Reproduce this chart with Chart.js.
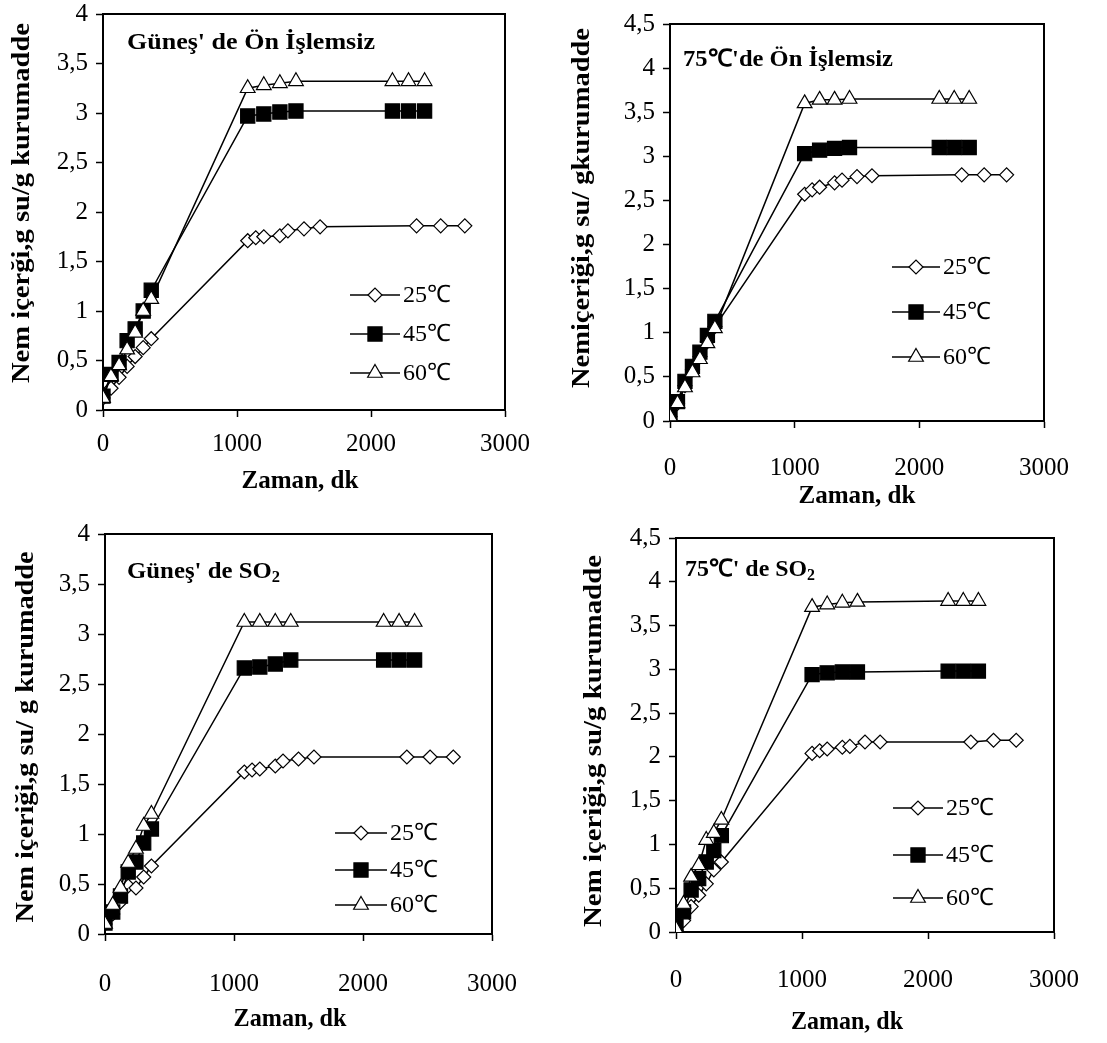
<!DOCTYPE html>
<html>
<head>
<meta charset="utf-8">
<script src="https://cdn.jsdelivr.net/npm/chart.js@4.4.0/dist/chart.umd.min.js"></script>
<style>
  body { margin: 0; background: #fff; }
  #page { position: relative; width: 1107px; height: 1043px; }
  canvas { position: absolute; }
</style>
</head>
<body>
<div id="page">
  <canvas id="c1" width="553" height="521" style="left:0;top:0"></canvas>
  <canvas id="c2" width="553" height="521" style="left:554px;top:0"></canvas>
  <canvas id="c3" width="553" height="521" style="left:0;top:522px"></canvas>
  <canvas id="c4" width="553" height="521" style="left:554px;top:522px"></canvas>
</div>
<script>
// zaman (dk) - 25°C has more readings than 45/60°C
const tLong = [0, 60, 120, 180, 240, 300, 360, 1080, 1140, 1200, 1320, 1380, 1500, 1620, 2340, 2520, 2700];
const tShort = [0, 60, 120, 180, 240, 300, 360, 1080, 1200, 1320, 1440, 2160, 2280, 2400];
const seriesLabels = ["25℃", "45℃", "60℃"];
const xTicks = [0, 1000, 2000, 3000];
const yTicks4 = [0, 0.5, 1, 1.5, 2, 2.5, 3, 3.5, 4];
const yTicks45 = [0, 0.5, 1, 1.5, 2, 2.5, 3, 3.5, 4, 4.5];

// Güneş' de Ön İşlemsiz
const g25 = [0.12, 0.22, 0.33, 0.44, 0.54, 0.63, 0.72, 1.71, 1.74, 1.75, 1.76, 1.81, 1.83, 1.85, 1.86, 1.86, 1.86];
const g45 = [0.14, 0.36, 0.48, 0.70, 0.82, 1.00, 1.21, 2.97, 2.99, 3.01, 3.02, 3.02, 3.02, 3.02];
const g60 = [0.12, 0.34, 0.45, 0.61, 0.78, 1.00, 1.12, 3.25, 3.28, 3.30, 3.32, 3.32, 3.32, 3.32];

// 75℃'de Ön İşlemsiz
const f25 = [0.05, 0.20, 0.40, 0.58, 0.73, 0.90, 1.07, 2.57, 2.62, 2.65, 2.70, 2.73, 2.77, 2.78, 2.79, 2.79, 2.79];
const f45 = [0.05, 0.22, 0.45, 0.62, 0.78, 0.97, 1.13, 3.03, 3.07, 3.09, 3.10, 3.10, 3.10, 3.10];
const f60 = [0.05, 0.20, 0.38, 0.55, 0.70, 0.88, 1.05, 3.60, 3.64, 3.64, 3.65, 3.65, 3.65, 3.65];

// Güneş' de SO2
const s25 = [0.10, 0.20, 0.32, 0.48, 0.46, 0.57, 0.68, 1.62, 1.64, 1.65, 1.68, 1.73, 1.75, 1.77, 1.77, 1.77, 1.77];
const s45 = [0.11, 0.22, 0.38, 0.62, 0.72, 0.91, 1.05, 2.66, 2.67, 2.70, 2.74, 2.74, 2.74, 2.74];
const s60 = [0.10, 0.29, 0.46, 0.71, 0.85, 1.08, 1.20, 3.12, 3.12, 3.12, 3.12, 3.12, 3.12, 3.12];

// 75℃' de SO2
const k25 = [0.02, 0.13, 0.29, 0.42, 0.55, 0.71, 0.80, 2.04, 2.07, 2.09, 2.11, 2.12, 2.17, 2.17, 2.17, 2.19, 2.19];
const k45 = [0.06, 0.23, 0.48, 0.61, 0.80, 0.93, 1.10, 2.94, 2.96, 2.97, 2.97, 2.98, 2.98, 2.98];
const k60 = [0.03, 0.32, 0.63, 0.76, 1.05, 1.13, 1.28, 3.71, 3.74, 3.76, 3.77, 3.78, 3.78, 3.78];

const SERIF = "'Liberation Serif', 'Times New Roman', serif";

const markers = [
  { pointStyle: "rectRot", radius: 7, fill: "#fff", order: 3 },
  { pointStyle: "rect", radius: 10, fill: "#000", order: 2 },
  { pointStyle: "triangle", radius: 8.5, fill: "#fff", order: 1 }
];

function pts(xs, ys) {
  return xs.map((x, i) => ({ x: x, y: ys[i] }));
}

function comma(v) {
  return String(v).replace(".", ",");
}

// draws text stretched along its own direction so it covers `len` pixels
function fitText(ctx, parts, x, y, len, align, vertical) {
  let total = 0;
  parts.forEach(p => { ctx.font = p.font; total += ctx.measureText(p.text).width; });
  const k = len / total;
  ctx.save();
  ctx.translate(x, y);
  if (vertical) ctx.rotate(-Math.PI / 2);
  ctx.scale(k, 1);
  let cx = align === "center" ? -total / 2 : 0;
  ctx.textAlign = "left";
  parts.forEach(p => {
    ctx.font = p.font;
    ctx.fillText(p.text, cx, p.dy || 0);
    cx += ctx.measureText(p.text).width;
  });
  ctx.restore();
}

// frame, titles, legend drawn on top of the chart
const decor = {
  id: "decor",
  afterDraw(chart, args, o) {
    const ctx = chart.ctx;
    const a = chart.chartArea;
    ctx.save();
    ctx.strokeStyle = "#000";
    ctx.lineWidth = 2;
    ctx.beginPath();
    ctx.moveTo(a.left, a.top);
    ctx.lineTo(a.right, a.top);
    ctx.lineTo(a.right, a.bottom);
    ctx.stroke();

    ctx.fillStyle = "#000";
    ctx.textBaseline = "middle";

    // panel title
    const tParts = [{ text: o.title, font: "bold 24px " + SERIF }];
    if (o.sub) tParts.push({ text: o.sub, font: "bold 16px " + SERIF, dy: 6 });
    fitText(ctx, tParts, o.titleX, o.titleY, o.titleW, "left", false);

    // axis titles
    fitText(ctx, [{ text: "Zaman, dk", font: "bold 25px " + SERIF }], o.xTitleX, o.xTitleY, o.xTitleW, "center", false);
    fitText(ctx, [{ text: o.yTitle, font: "bold 25px " + SERIF }], o.yTitleX, o.yTitleY, o.yTitleLen, "center", true);

    // legend
    ctx.font = "24px " + SERIF;
    ctx.textAlign = "left";
    seriesLabels.forEach((lab, i) => {
      const y = o.legRows[i];
      const m = markers[i];
      ctx.strokeStyle = "#000";
      ctx.lineWidth = 1.5;
      ctx.beginPath();
      ctx.moveTo(o.legX0, y);
      ctx.lineTo(o.legX1, y);
      ctx.stroke();
      ctx.fillStyle = m.fill;
      ctx.lineWidth = 1.2;
      Chart.helpers.drawPoint(ctx, { pointStyle: m.pointStyle, radius: m.radius, borderWidth: 1.2, rotation: 0 }, (o.legX0 + o.legX1) / 2, y);
      ctx.fillStyle = "#000";
      ctx.fillText(lab, o.legX1 + 3, y + 1);
    });
    ctx.restore();
  }
};

function makeChart(id, p) {
  const yTicks = p.yMax > 4 ? yTicks45 : yTicks4;
  const series = [p.d25, p.d45, p.d60];
  const datasets = series.map((d, i) => ({
    label: seriesLabels[i],
    data: pts(i === 0 ? tLong : tShort, d),
    borderColor: "#000",
    borderWidth: 1.5,
    tension: 0,
    fill: false,
    order: markers[i].order,
    pointStyle: markers[i].pointStyle,
    pointRadius: markers[i].radius,
    pointBackgroundColor: markers[i].fill,
    pointBorderColor: "#000",
    pointBorderWidth: 1.2
  }));

  new Chart(document.getElementById(id), {
    type: "line",
    data: { datasets: datasets },
    plugins: [decor],
    options: {
      responsive: false,
      animation: false,
      devicePixelRatio: 1,
      layout: { autoPadding: false, padding: { left: 0, top: p.T, right: p.R, bottom: 0 } },
      plugins: {
        legend: { display: false },
        tooltip: { enabled: false },
        decor: p.decor
      },
      scales: {
        x: {
          type: "linear",
          min: 0,
          max: 3000,
          afterBuildTicks: s => { s.ticks = xTicks.map(v => ({ value: v })); },
          afterFit: s => { s.height = p.H; s.paddingLeft = 0; s.paddingRight = 0; },
          border: { display: true, color: "#000", width: 2 },
          grid: { drawOnChartArea: false, drawTicks: true, tickLength: 7, tickWidth: 1.5, tickColor: "#000" },
          ticks: { color: "#000", font: { family: SERIF, size: 25 }, padding: p.xPad, maxRotation: 0, callback: v => String(v) }
        },
        y: {
          min: 0,
          max: p.yMax,
          afterBuildTicks: s => { s.ticks = yTicks.map(v => ({ value: v })); },
          afterFit: s => { s.width = p.L; s.paddingTop = 0; s.paddingBottom = 0; },
          border: { display: true, color: "#000", width: 2 },
          grid: { drawOnChartArea: false, drawTicks: true, tickLength: 7, tickWidth: 1.5, tickColor: "#000" },
          ticks: { color: "#000", font: { family: SERIF, size: 25 }, padding: 8, callback: v => comma(v) }
        }
      }
    }
  });
}

makeChart("c1", {
  d25: g25, d45: g45, d60: g60, yMax: 4,
  L: 103, T: 14, R: 48, H: 111, xPad: 12,
  decor: {
    title: "Güneş' de Ön İşlemsiz", titleX: 127, titleY: 43, titleW: 248,
    yTitle: "Nem içerği,g su/g kurumadde", yTitleX: 23, yTitleY: 203, yTitleLen: 360,
    xTitleX: 300, xTitleY: 482, xTitleW: 117,
    legX0: 350, legX1: 400, legRows: [295, 334, 373]
  }
});

makeChart("c2", {
  d25: f25, d45: f45, d60: f60, yMax: 4.5,
  L: 116, T: 24, R: 63, H: 100, xPad: 25,
  decor: {
    title: "75℃'de Ön İşlemsiz", titleX: 129, titleY: 60, titleW: 210,
    yTitle: "Nemiçeriği,g su/ gkurumadde", yTitleX: 29, yTitleY: 208, yTitleLen: 360,
    xTitleX: 303, xTitleY: 497, xTitleW: 117,
    legX0: 338, legX1: 386, legRows: [267, 312, 357]
  }
});

makeChart("c3", {
  d25: s25, d45: s45, d60: s60, yMax: 4,
  L: 105, T: 12, R: 61, H: 109, xPad: 28,
  decor: {
    title: "Güneş' de SO", sub: "2", titleX: 127, titleY: 50, titleW: 153,
    yTitle: "Nem içeriği,g su/ g kurumadde", yTitleX: 27, yTitleY: 215, yTitleLen: 371,
    xTitleX: 290, xTitleY: 498, xTitleW: 113,
    legX0: 335, legX1: 387, legRows: [311, 348, 383]
  }
});

makeChart("c4", {
  d25: k25, d45: k45, d60: k60, yMax: 4.5,
  L: 122, T: 16, R: 53, H: 111, xPad: 26,
  decor: {
    title: "75℃' de SO", sub: "2", titleX: 131, titleY: 48, titleW: 130,
    yTitle: "Nem içeriği,g su/g kurumadde", yTitleX: 41, yTitleY: 219, yTitleLen: 372,
    xTitleX: 293, xTitleY: 501, xTitleW: 112,
    legX0: 339, legX1: 389, legRows: [286, 333, 376]
  }
});
</script>
</body>
</html>
